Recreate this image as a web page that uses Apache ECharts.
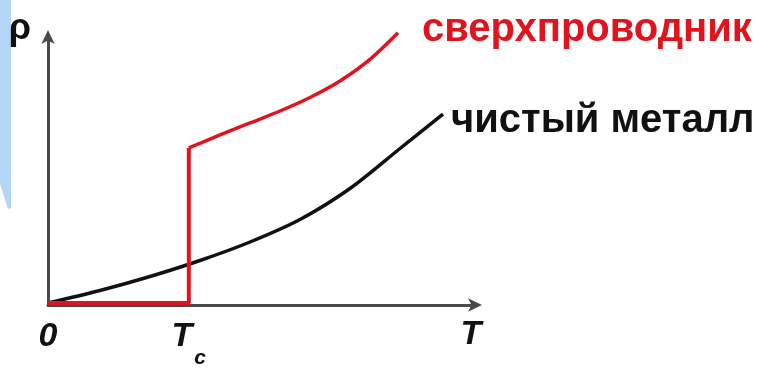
<!DOCTYPE html>
<html>
<head>
<meta charset="utf-8">
<style>
html,body{margin:0;padding:0;background:#fff;}
#chart{width:769px;height:368px;}
</style>
<script src="https://cdn.jsdelivr.net/npm/echarts@6/dist/echarts.min.js"></script>
</head>
<body>
<div id="chart"></div>
<script>
// Data (arbitrary units: x = temperature, y = resistivity)
const Tc = 32.9;
const metalT   = [0, 12.15, 23.83, 35.51, 47.2, 58.88, 70.56, 82.24, 92.29];
const metalRho = [0.74, 5.39, 10.59, 16.54, 23.42, 31.78, 43.31, 58.18, 71.0];
const scStepT   = [0, Tc, Tc];
const scStepRho = [0.7, 0.7, 58.4];
const scNormT   = [Tc, 40.19, 47.2, 54.21, 61.21, 68.22, 75.23, 81.78];
const scNormRho = [58.4, 63.2, 67.66, 72.12, 77.14, 83.27, 91.3, 101.19];
const labelSC = 'сверхпроводник';
const labelMetal = 'чистый металл';
const axisNameX = 'T';
const axisNameY = 'ρ';
const tickValues = [0, Tc];

const zip = (a, b) => a.map((v, i) => [v, b[i]]);
const RED = '#e0141e';
const FONT = '"Liberation Sans", Arial, sans-serif';

const chart = echarts.init(document.getElementById('chart'), null, {renderer: 'canvas'});
chart.setOption({
  animation: false,
  backgroundColor: '#fff',
  graphic: [{
    type: 'polygon',
    shape: {points: [[0, 0], [11, 0], [11, 208], [8, 209], [0, 184]]},
    style: {fill: '#b4d5f5'},
    silent: true,
    z: -1
  }],
  grid: {left: 48, right: 293, top: 36, bottom: 63, outerBoundsMode: 'none', containLabel: false},
  xAxis: {
    type: 'value', min: 0, max: 100,
    name: axisNameX, nameLocation: 'end', nameGap: -5,
    nameTextStyle: {fontFamily: FONT, fontSize: 34, fontWeight: 'bold', fontStyle: 'italic',
      color: '#111', align: 'center', verticalAlign: 'top', padding: [13, 0, 0, 0]},
    splitLine: {show: false},
    axisTick: {show: false},
    axisLine: {lineStyle: {color: '#4a4a4a', width: 3}, symbol: ['none', 'arrow'], symbolSize: [10, 14], symbolOffset: [0, 6]},
    axisLabel: {
      customValues: tickValues,
      margin: 15,
      formatter: v => (v === 0 ? '{z|0}' : '{t|T}{c|c}'),
      rich: {
        z: {fontFamily: FONT, fontSize: 34, fontWeight: 'bold', fontStyle: 'italic', color: '#111', lineHeight: 34, verticalAlign: 'top'},
        t: {fontFamily: FONT, fontSize: 34, fontWeight: 'bold', fontStyle: 'italic', color: '#111', lineHeight: 34, verticalAlign: 'top'},
        c: {fontFamily: FONT, fontSize: 21, fontWeight: 'bold', fontStyle: 'italic', color: '#111', lineHeight: 21, padding: [28, 0, 0, 2], verticalAlign: 'top'}
      }
    }
  },
  yAxis: {
    type: 'value', min: 0, max: 100,
    name: axisNameY, nameLocation: 'end', nameGap: 7,
    nameTextStyle: {fontFamily: FONT, fontSize: 36, fontWeight: 'bold', color: '#111',
      align: 'right', verticalAlign: 'middle', padding: [0, 17, 0, 0]},
    splitLine: {show: false},
    axisTick: {show: false},
    axisLabel: {show: false},
    axisLine: {lineStyle: {color: '#4a4a4a', width: 3}, symbol: ['none', 'arrow'], symbolSize: [10, 14], symbolOffset: [0, 6]}
  },
  series: [
    {
      type: 'line', data: zip(metalT, metalRho), smooth: 0.3, showSymbol: false, clip: false,
      lineStyle: {color: '#111', width: 3.5},
      endLabel: {show: true, formatter: labelMetal, distance: 8, offset: [0, 7],
        fontFamily: FONT, fontSize: 40, fontWeight: 'bold', color: '#111'}
    },
    {
      type: 'line', data: zip(scStepT, scStepRho), showSymbol: false, clip: false,
      lineStyle: {color: RED, width: 4}
    },
    {
      type: 'line', data: zip(scNormT, scNormRho), smooth: 0.3, showSymbol: false, clip: false,
      lineStyle: {color: RED, width: 3.5},
      endLabel: {show: true, formatter: labelSC, distance: 24, offset: [0, -3],
        fontFamily: FONT, fontSize: 40, fontWeight: 'bold', color: RED}
    }
  ]
});
</script>
</body>
</html>
